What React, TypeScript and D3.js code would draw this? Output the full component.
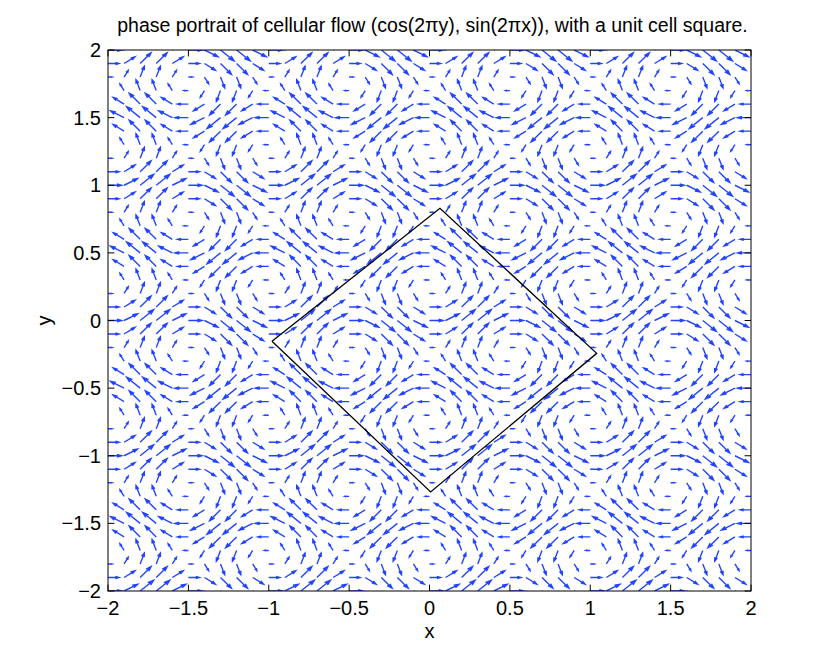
import React, { useRef, useEffect } from 'react';
import * as d3 from 'd3';

// grid points of the quiver (both directions), step 0.1
const gridValues = [
  -2, -1.9, -1.8, -1.7, -1.6, -1.5, -1.4, -1.3, -1.2, -1.1,
  -1, -0.9, -0.8, -0.7, -0.6, -0.5, -0.4, -0.3, -0.2, -0.1,
  0, 0.1, 0.2, 0.3, 0.4, 0.5, 0.6, 0.7, 0.8, 0.9,
  1, 1.1, 1.2, 1.3, 1.4, 1.5, 1.6, 1.7, 1.8, 1.9, 2,
];

// unit cell square corners
const squareX = [-0.98, 0.065, 1.04, 0.007, -0.98];
const squareY = [-0.154, 0.83, -0.243, -1.268, -0.154];

const xTicks = [-2, -1.5, -1, -0.5, 0, 0.5, 1, 1.5, 2];
const yTicks = [-2, -1.5, -1, -0.5, 0, 0.5, 1, 1.5, 2];

const titleText = 'phase portrait of cellular flow (cos(2\u03c0y), sin(2\u03c0x)), with a unit cell square.';

const fmt = (d: number) => String(d).replace('-', '\u2212');

function App() {
  const ref = useRef<SVGSVGElement>(null);

  useEffect(() => {
    const W = 830, H = 664;
    const margin = { left: 108, right: 79, top: 50, bottom: 73 };
    const svg = d3.select(ref.current);
    svg.selectAll('*').remove();

    const x = d3.scaleLinear().domain([-2, 2]).range([margin.left, W - margin.right]);
    const y = d3.scaleLinear().domain([-2, 2]).range([H - margin.bottom, margin.top]);

    svg.append('defs').append('clipPath').attr('id', 'plotclip')
      .append('rect')
      .attr('x', margin.left).attr('y', margin.top)
      .attr('width', W - margin.left - margin.right)
      .attr('height', H - margin.top - margin.bottom);

    // vector field from the title: (cos(2 pi y), sin(2 pi x))
    const field: { x: number; y: number; u: number; v: number }[] = [];
    gridValues.forEach(gx => {
      gridValues.forEach(gy => {
        field.push({ x: gx, y: gy, u: Math.cos(2 * Math.PI * gy), v: Math.sin(2 * Math.PI * gx) });
      });
    });

    // matlab-like autoscale
    const n = gridValues.length;
    const del = 2 * Math.pow(4 / n, 2);
    const maxlen = d3.max(field, d => Math.sqrt((d.u * d.u + d.v * d.v) / del)) || 1;
    const scale = 0.84 / maxlen;
    const alpha = 0.33, beta = 0.33;

    const path = d3.path();
    field.forEach(d => {
      const u = d.u * scale, v = d.v * scale;
      const tx = d.x + u, ty = d.y + v;
      path.moveTo(x(d.x), y(d.y));
      path.lineTo(x(tx), y(ty));
      path.moveTo(x(tx - alpha * (u + beta * v)), y(ty - alpha * (v - beta * u)));
      path.lineTo(x(tx), y(ty));
      path.lineTo(x(tx - alpha * (u - beta * v)), y(ty - alpha * (v + beta * u)));
    });

    const plot = svg.append('g').attr('clip-path', 'url(#plotclip)');
    plot.append('path')
      .attr('d', path.toString())
      .attr('fill', 'none')
      .attr('stroke', '#2244ff')
      .attr('stroke-width', 1.4);

    plot.append('path')
      .datum(squareX.map((sx, i) => [sx, squareY[i]] as [number, number]))
      .attr('d', d3.line<[number, number]>().x(d => x(d[0])).y(d => y(d[1])))
      .attr('fill', 'none')
      .attr('stroke', '#000')
      .attr('stroke-width', 1.3);

    // box + ticks
    const x0 = margin.left, x1 = W - margin.right, y0 = margin.top, y1 = H - margin.bottom;
    svg.append('rect')
      .attr('x', x0).attr('y', y0).attr('width', x1 - x0).attr('height', y1 - y0)
      .attr('fill', 'none').attr('stroke', '#000').attr('stroke-width', 1);
    const tl = 6.4;
    const ticks = svg.append('g').attr('stroke', '#000').attr('stroke-width', 1);
    xTicks.forEach(t => {
      ticks.append('line').attr('x1', x(t)).attr('x2', x(t)).attr('y1', y1).attr('y2', y1 - tl);
      ticks.append('line').attr('x1', x(t)).attr('x2', x(t)).attr('y1', y0).attr('y2', y0 + tl);
    });
    yTicks.forEach(t => {
      ticks.append('line').attr('x1', x0).attr('x2', x0 + tl).attr('y1', y(t)).attr('y2', y(t));
      ticks.append('line').attr('x1', x1).attr('x2', x1 - tl).attr('y1', y(t)).attr('y2', y(t));
    });

    const font = '"Liberation Sans", Arial, sans-serif';
    const fs = '20px';
    svg.append('g').selectAll('text').data(xTicks).enter().append('text')
      .attr('x', d => x(d)).attr('y', y1 + 24)
      .attr('text-anchor', 'middle')
      .style('font-family', font).style('font-size', fs)
      .text(d => fmt(d));
    svg.append('g').selectAll('text').data(yTicks).enter().append('text')
      .attr('x', x0 - 7).attr('y', d => y(d) + 7)
      .attr('text-anchor', 'end')
      .style('font-family', font).style('font-size', fs)
      .text(d => fmt(d));

    svg.append('text')
      .attr('x', (x0 + x1) / 2 + 3).attr('y', 32)
      .attr('text-anchor', 'middle')
      .style('font-family', font).style('font-size', '19.5px')
      .text(titleText);
    svg.append('text')
      .attr('x', (x0 + x1) / 2).attr('y', 638)
      .attr('text-anchor', 'middle')
      .style('font-family', font).style('font-size', fs)
      .text('x');
    svg.append('text')
      .attr('transform', `translate(51,${(y0 + y1) / 2}) rotate(-90)`)
      .attr('text-anchor', 'middle')
      .style('font-family', font).style('font-size', fs)
      .text('y');
  }, []);

  return (
    <svg ref={ref} width={830} height={664}
      style={{ position: 'absolute', left: 0, top: 0, background: '#fff' }} />
  );
}

export default App;
